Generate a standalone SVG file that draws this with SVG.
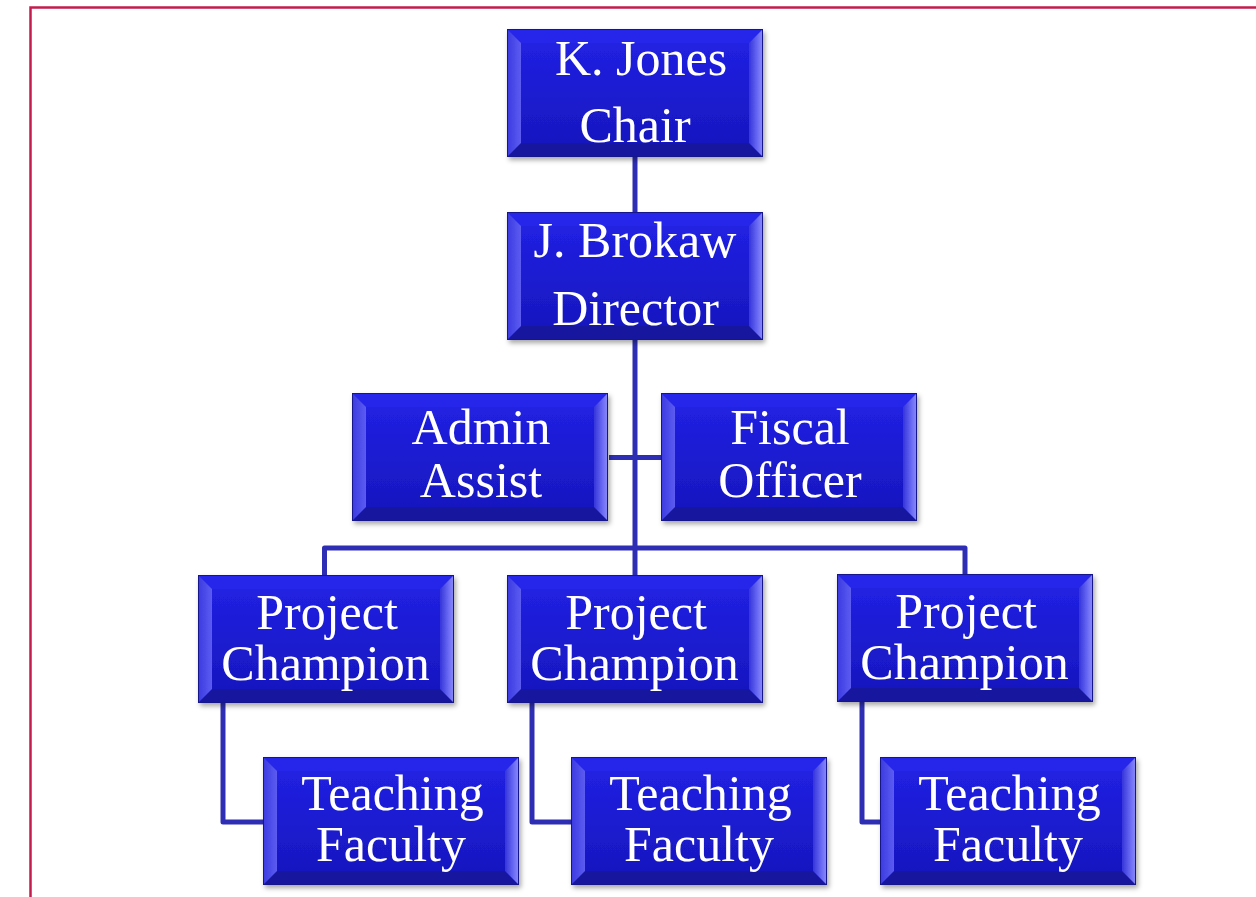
<svg xmlns="http://www.w3.org/2000/svg" xmlns:xlink="http://www.w3.org/1999/xlink" width="1256" height="897" viewBox="0 0 1256 897">
  <defs>
    <linearGradient id="gFace" x1="0" y1="0" x2="0" y2="1">
      <stop offset="0" stop-color="#2222E6"/>
      <stop offset="1" stop-color="#1616BC"/>
    </linearGradient>
    <linearGradient id="gLeft" x1="0" y1="0" x2="1" y2="0">
      <stop offset="0" stop-color="#3A3AE0"/>
      <stop offset="1" stop-color="#5C5CF2"/>
    </linearGradient>
    <linearGradient id="gRight" x1="0" y1="0" x2="1" y2="0">
      <stop offset="0" stop-color="#3434DA"/>
      <stop offset="0.6" stop-color="#6A6AF4"/>
      <stop offset="1" stop-color="#8C8CFA"/>
    </linearGradient>
    <filter id="shadow" x="-10%" y="-10%" width="125%" height="130%">
      <feDropShadow dx="2" dy="3" stdDeviation="2.5" flood-color="#000" flood-opacity="0.35"/>
    </filter>
    <symbol id="bx" width="256" height="128" viewBox="0 0 256 128" overflow="visible">
      <rect width="256" height="128" fill="url(#gFace)"/>
      <polygon points="0,0 256,0 242,14 14,14" fill="#2525EA"/>
      <polygon points="0,128 14,114 242,114 256,128" fill="#12129E"/>
      <polygon points="0,0 14,14 14,114 0,128" fill="url(#gLeft)"/>
      <polygon points="256,0 242,14 242,114 256,128" fill="url(#gRight)"/>
      <rect x="0.5" y="0.5" width="255" height="127" fill="none" stroke="#14148C" stroke-width="1"/>
    </symbol>
  </defs>
  <style>
    .lbl { font-family: "Liberation Serif", "Times New Roman", serif; font-size: 50px; fill: #ffffff; text-anchor: middle; }
    .con { fill: none; stroke: #2E2EB4; stroke-width: 5; stroke-linejoin: round; }
    .frame { fill: none; stroke: #C41C4C; stroke-width: 2.5; }
  </style>

  <path class="frame" d="M30.5,897 V7.5 H1256"/>

  <g id="connectors">
    <path class="con" d="M635,157 V212"/>
    <path class="con" d="M635,340 V548"/>
    <path class="con" d="M609,457.5 H661"/>
    <path class="con" d="M324.5,575 V548 H965 V574"/>
    <path class="con" d="M635,548 V575"/>
    <path class="con" d="M223,703 V822 H263"/>
    <path class="con" d="M532,703 V822 H571"/>
    <path class="con" d="M862,702 V822 H880"/>
  </g>

  <g id="n-jones">
    <use xlink:href="#bx" href="#bx" x="507" y="29" filter="url(#shadow)"/>
    <text class="lbl"><tspan x="641" y="75">K. Jones</tspan><tspan x="635" y="142">Chair</tspan></text>
  </g>
  <g id="n-brokaw">
    <use xlink:href="#bx" href="#bx" x="507" y="212" filter="url(#shadow)"/>
    <text class="lbl"><tspan x="635" y="257">J. Brokaw</tspan><tspan x="635.5" y="325">Director</tspan></text>
  </g>
  <g id="n-admin">
    <use xlink:href="#bx" href="#bx" x="352" y="393" filter="url(#shadow)"/>
    <text class="lbl"><tspan x="481" y="444">Admin</tspan><tspan x="481" y="497">Assist</tspan></text>
  </g>
  <g id="n-fiscal">
    <use xlink:href="#bx" href="#bx" x="661" y="393" filter="url(#shadow)"/>
    <text class="lbl"><tspan x="790" y="444">Fiscal</tspan><tspan x="790" y="497">Officer</tspan></text>
  </g>
  <g id="n-pc1">
    <use xlink:href="#bx" href="#bx" x="198" y="575" filter="url(#shadow)"/>
    <text class="lbl"><tspan x="327" y="629">Project</tspan><tspan x="325.5" y="680">Champion</tspan></text>
  </g>
  <g id="n-pc2">
    <use xlink:href="#bx" href="#bx" x="507" y="575" filter="url(#shadow)"/>
    <text class="lbl"><tspan x="636" y="629">Project</tspan><tspan x="634.5" y="680">Champion</tspan></text>
  </g>
  <g id="n-pc3">
    <use xlink:href="#bx" href="#bx" x="837" y="574" filter="url(#shadow)"/>
    <text class="lbl"><tspan x="966" y="628">Project</tspan><tspan x="964.5" y="679">Champion</tspan></text>
  </g>
  <g id="n-tf1">
    <use xlink:href="#bx" href="#bx" x="263" y="757" filter="url(#shadow)"/>
    <text class="lbl"><tspan x="392.5" y="810">Teaching</tspan><tspan x="391" y="861">Faculty</tspan></text>
  </g>
  <g id="n-tf2">
    <use xlink:href="#bx" href="#bx" x="571" y="757" filter="url(#shadow)"/>
    <text class="lbl"><tspan x="700.5" y="810">Teaching</tspan><tspan x="699" y="861">Faculty</tspan></text>
  </g>
  <g id="n-tf3">
    <use xlink:href="#bx" href="#bx" x="880" y="757" filter="url(#shadow)"/>
    <text class="lbl"><tspan x="1009.5" y="810">Teaching</tspan><tspan x="1008" y="861">Faculty</tspan></text>
  </g>
</svg>
